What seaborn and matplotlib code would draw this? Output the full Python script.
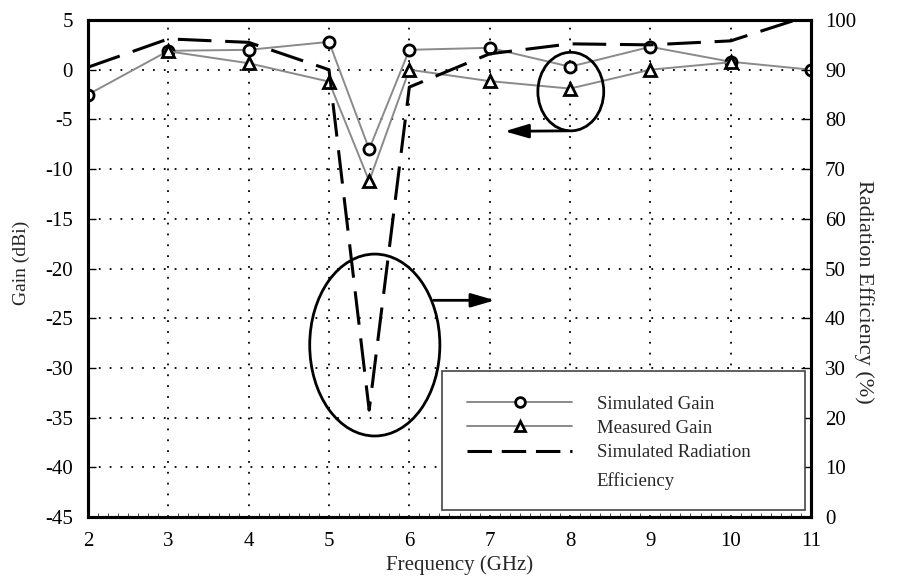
import matplotlib
matplotlib.use("Agg")
import matplotlib.pyplot as plt
import seaborn as sns
import pandas as pd
import numpy as np
from matplotlib.patches import Ellipse, Rectangle
from matplotlib.lines import Line2D

# ---- data ----
freq_sim = [2, 3, 4, 5, 5.5, 6, 7, 8, 9, 10, 11]
gain_sim = [-2.5, 1.9, 2.0, 2.8, -8.0, 2.0, 2.2, 0.3, 2.3, 0.8, 0.0]
freq_meas = [3, 4, 5, 5.5, 6, 7, 8, 9, 10]
gain_meas = [1.85, 0.65, -1.2, -11.2, 0.0, -1.15, -1.9, 0.0, 0.75]
freq_eff = [2, 3, 4, 5, 5.5, 6, 7, 8, 9, 10, 11]
eff_sim = [90.5, 96.2, 95.5, 90.0, 21.5, 86.5, 93.2, 95.2, 95.0, 95.8, 101.0]

xticks = [2, 3, 4, 5, 6, 7, 8, 9, 10, 11]
gain_ticks = [5, 0, -5, -10, -15, -20, -25, -30, -35, -40, -45]
eff_ticks = [0, 10, 20, 30, 40, 50, 60, 70, 80, 90, 100]
legend_labels = ["Simulated Gain", "Measured Gain", "Simulated Radiation",
                 "Efficiency"]

sns.set_theme(style="white")
plt.rcParams['font.family'] = ['Liberation Serif', 'DejaVu Serif']

W, H = 899, 576
L, R, T, B = 88, 811, 20, 517
fig = plt.figure(figsize=(W/100, H/100), dpi=100)
ax = fig.add_axes([L/W, 1-B/H, (R-L)/W, (B-T)/H])
ax2 = ax.twinx()

def axx(px):
    return (px - L) / (R - L)

def axy(py):
    return (B - py) / (B - T)

df_sim = pd.DataFrame({"f": freq_sim, "g": gain_sim})
df_meas = pd.DataFrame({"f": freq_meas, "g": gain_meas})
df_eff = pd.DataFrame({"f": freq_eff, "e": eff_sim})

gray = "#8a8a8a"
DASH = (11, 4.5)
sns.lineplot(data=df_sim, x="f", y="g", ax=ax, color=gray, lw=1.4,
             marker="o", markersize=8, markerfacecolor="white",
             markeredgecolor="black", markeredgewidth=2.0, zorder=4)
sns.lineplot(data=df_meas, x="f", y="g", ax=ax, color=gray, lw=1.4,
             marker="^", markersize=8, markerfacecolor="white",
             markeredgecolor="black", markeredgewidth=2.0, zorder=4)
sns.lineplot(data=df_eff, x="f", y="e", ax=ax2, color="black", lw=2.2,
             zorder=3)
ax2.lines[0].set_dashes(DASH)

ax.set_xlim(2, 11)
ax.set_ylim(-45, 5)
ax2.set_ylim(0, 100)
ax.set_xticks(xticks)
ax.set_xticklabels([str(t) for t in xticks])
ax.set_yticks(gain_ticks)
ax.set_yticklabels([str(t) for t in gain_ticks])
ax2.set_yticks(eff_ticks)
ax2.set_yticklabels([str(t) for t in eff_ticks])
ax.set_xticks(np.arange(2, 11.001, 0.125), minor=True)

ax.grid(True, which="major", color="black", linestyle=(0, (1, 5)), lw=1.3)
ax.set_axisbelow(True)

fs = 15
ax.tick_params(axis="y", which="major", direction="in", length=6,
               width=1, labelsize=fs, colors="black", pad=11)
ax.tick_params(axis="x", which="major", direction="in", length=6,
               width=1, labelsize=fs, colors="black", pad=11)
ax.tick_params(axis="x", which="minor", direction="in", length=3, width=0.6,
               bottom=True)
ax2.tick_params(axis="y", which="major", direction="in", length=7, width=1,
                labelsize=fs, colors="black", pad=10)
for a in (ax, ax2):
    for s in a.spines.values():
        s.set_color("black")
        s.set_linewidth(2.2)

ax.set_xlabel("Frequency (GHz)", fontsize=15)
ax.xaxis.set_label_coords(axx(460), axy(555))
ax.set_ylabel("Gain (dBi)", fontsize=14)
ax.yaxis.set_label_coords(axx(30), axy(263))
ax2.set_ylabel("Radiation Efficiency (%)", fontsize=16, rotation=270)
ax2.yaxis.set_label_coords(axx(874), axy(292))

# annotations: ellipses and arrows (gain data coords)
ax2.add_patch(Ellipse((5.57, -27.7), 1.62, 18.3, transform=ax.transData,
                      fill=False, ec="black", lw=2.0, zorder=6))
ax2.annotate("", xy=(7.1, -23.2), xytext=(6.27, -23.2),
             xycoords=ax.transData, textcoords=ax.transData,
             arrowprops=dict(arrowstyle="-|>,head_length=1.2,head_width=0.35",
                             color="black", lw=2.0), zorder=6)
ax2.add_patch(Ellipse((8.01, -2.2), 0.82, 7.9, transform=ax.transData,
                      fill=False, ec="black", lw=2.0, zorder=6))
ax2.annotate("", xy=(7.15, -6.2), xytext=(8.01, -6.15),
             xycoords=ax.transData, textcoords=ax.transData,
             arrowprops=dict(arrowstyle="-|>,head_length=1.2,head_width=0.35",
                             color="black", lw=2.0), zorder=6)

# legend box
ax2.add_patch(Rectangle((axx(442), axy(510)), axx(805) - axx(442),
                        axy(371) - axy(510), transform=ax.transAxes,
                        facecolor="white", edgecolor="#444444", lw=1.2,
                        zorder=7))
handles = [
    Line2D([], [], color=gray, lw=1.4, marker="o", markersize=7,
           markerfacecolor="white", markeredgecolor="black",
           markeredgewidth=2.0),
    Line2D([], [], color=gray, lw=1.4, marker="^", markersize=7,
           markerfacecolor="white", markeredgecolor="black",
           markeredgewidth=2.0),
    Line2D([], [], color="black", lw=2.2, dashes=(8, 3.2)),
    Line2D([], [], color="none", lw=0),
]
leg = ax2.legend(handles, legend_labels, loc="upper left",
                 bbox_to_anchor=(axx(460), axy(388)), borderaxespad=0,
                 frameon=False, fontsize=13.5, handlelength=5.6,
                 handletextpad=1.3, labelspacing=0.38, borderpad=0.4)
leg.set_zorder(8)
leg.get_texts()[3].set_y(-4)

fig.savefig("out.png", dpi=100)
